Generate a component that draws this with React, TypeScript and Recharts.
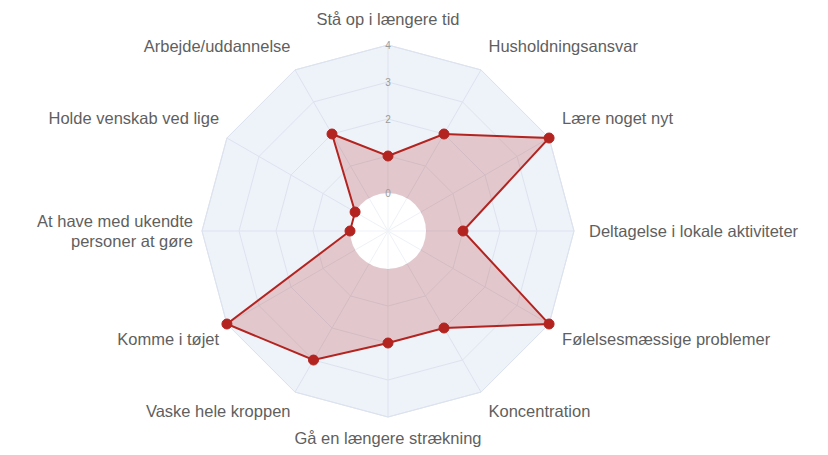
import React from "react";
import {
  RadarChart,
  Radar,
  PolarGrid,
  PolarAngleAxis,
  PolarRadiusAxis,
} from "recharts";

const categories = [
  "Stå op i længere tid",
  "Husholdningsansvar",
  "Lære noget nyt",
  "Deltagelse i lokale aktiviteter",
  "Følelsesmæssige problemer",
  "Koncentration",
  "Gå en længere strækning",
  "Vaske hele kroppen",
  "Komme i tøjet",
  "At have med ukendte\npersoner at gøre",
  "Holde venskab ved lige",
  "Arbejde/uddannelse",
];
const scores = [1, 2, 4, 1, 4, 2, 2, 3, 4, 0, 0, 2];
const radiusTicks = [0, 1, 2, 3, 4];

const maxTick = radiusTicks[radiusTicks.length - 1];
const data = categories.map((name, i) => ({ name, score: scores[i] }));

const W = 828;
const H = 455;
const CX = 388;
const CY = 231;
const OUTER = 186;
const INNER = 38;
const RED = "#b3231f";
const GRID = "#dde3ee";

const rad = (deg: number) => (deg * Math.PI) / 180;

function AngleTick(props: any) {
  const { payload } = props;
  const a = payload.coordinate;
  const c = Math.cos(rad(a));
  const s = Math.sin(rad(a));
  const x = CX + c * (c >= 0 ? 201 : 195);
  let y = CY - s * 198;
  if (s > 0.01) y -= 14;
  if (s < -0.01) y += 9;
  const anchor = c > 0.01 ? "start" : c < -0.01 ? "end" : "middle";
  const lines = String(payload.value).split("\n");
  const lh = 20;
  const y0 = y - ((lines.length - 1) * lh) / 2;
  return (
    <text
      x={x}
      y={y0}
      textAnchor={anchor}
      dominantBaseline="central"
      fontSize={16.5}
      fill="#5f5f5f"
      fontFamily="Arial, 'Liberation Sans', sans-serif"
    >
      {lines.map((l, i) => (
        <tspan key={i} x={x} dy={i === 0 ? 0 : lh}>
          {l}
        </tspan>
      ))}
    </text>
  );
}

function RadiusTick(props: any) {
  const { x, y, payload } = props;
  return (
    <text
      x={x}
      y={y}
      textAnchor="middle"
      dominantBaseline="central"
      fontSize={10}
      fill="#9a9a9a"
      fontFamily="Arial, 'Liberation Sans', sans-serif"
    >
      {payload.value}
    </text>
  );
}

// fill, then the white hole, then the outline on top
function ScoreShape(props: any) {
  const pts: { x: number; y: number }[] = props.points || [];
  const d =
    pts.map((p, i) => `${i === 0 ? "M" : "L"}${p.x},${p.y}`).join(" ") + " Z";
  return (
    <g>
      <path d={d} fill={RED} fillOpacity={0.2} stroke="none" />
      <circle cx={CX} cy={CY} r={INNER} fill="#ffffff" />
      {categories.map((_, i) => {
        const a = rad(90 - (360 / categories.length) * i);
        return (
          <line
            key={i}
            x1={CX}
            y1={CY}
            x2={CX + INNER * Math.cos(a)}
            y2={CY - INNER * Math.sin(a)}
            stroke="#eef1f6"
          />
        );
      })}
      <path d={d} fill="none" stroke={RED} strokeWidth={2} />
    </g>
  );
}

export default function App() {
  return (
    <div style={{ position: "absolute", left: 0, top: 0, background: "#fff" }}>
      <RadarChart
        width={W}
        height={H}
        data={data}
        cx={CX}
        cy={CY}
        outerRadius={OUTER}
        innerRadius={INNER}
        margin={{ top: 0, right: 0, bottom: 0, left: 0 }}
      >
        <PolarGrid
          gridType="polygon"
          stroke={GRID}
          {...({ fill: "#eef2f9", fillOpacity: 1 } as any)}
        />
        <PolarAngleAxis
          dataKey="name"
          tick={AngleTick}
          tickLine={false}
          axisLine={false}
        />
        <PolarRadiusAxis
          angle={90}
          domain={[0, maxTick]}
          ticks={radiusTicks as any}
          tickCount={radiusTicks.length}
          tick={RadiusTick}
          axisLine={false}
          tickLine={false}
        />
        <Radar
          dataKey="score"
          shape={ScoreShape}
          dot={{ r: 5, fill: RED, stroke: RED, strokeWidth: 1, fillOpacity: 1 }}
          activeDot={false}
          isAnimationActive={false}
        />
      </RadarChart>
    </div>
  );
}
